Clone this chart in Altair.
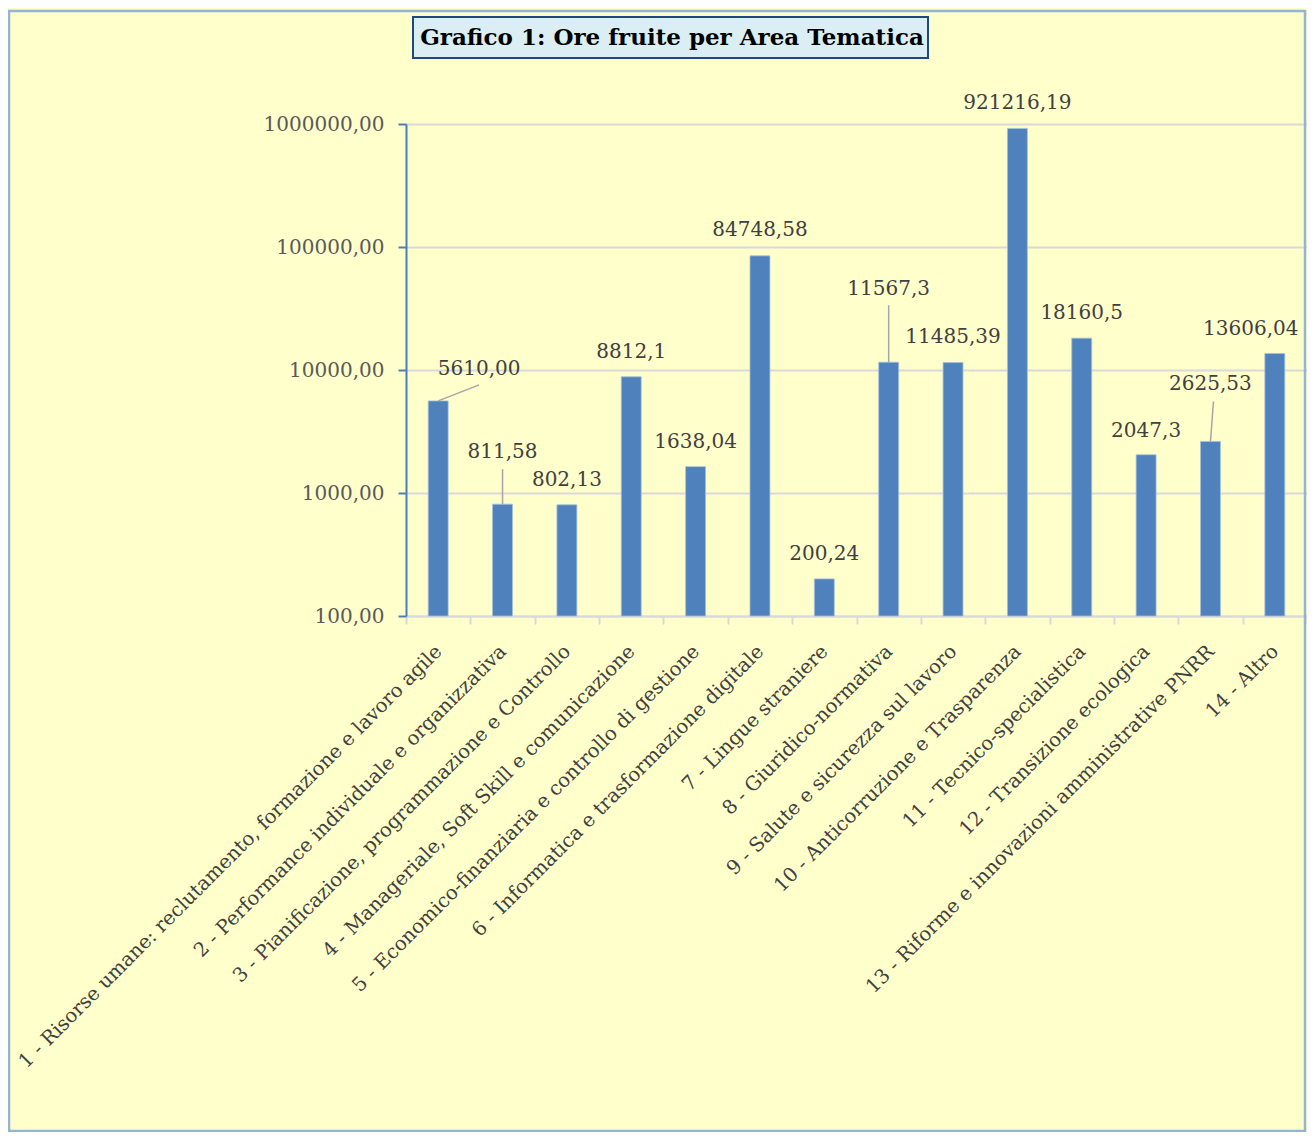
import altair as alt
import pandas as pd

categories = [
    "1 - Risorse umane: reclutamento, formazione e lavoro agile",
    "2 - Performance individuale e organizzativa",
    "3 - Pianificazione, programmazione e Controllo",
    "4 - Manageriale, Soft Skill e comunicazione",
    "5 - Economico-finanziaria e controllo di gestione",
    "6 - Informatica e trasformazione digitale",
    "7 - Lingue straniere",
    "8 - Giuridico-normativa",
    "9 - Salute e sicurezza sul lavoro",
    "10 - Anticorruzione e Trasparenza",
    "11 - Tecnico-specialistica",
    "12 - Transizione ecologica",
    "13 - Riforme e innovazioni amministrative PNRR",
    "14 - Altro",
]
values = [5610.00, 811.58, 802.13, 8812.1, 1638.04, 84748.58, 200.24,
          11567.3, 11485.39, 921216.19, 18160.5, 2047.3, 2625.53, 13606.04]
value_labels = ["5610,00", "811,58", "802,13", "8812,1", "1638,04", "84748,58", "200,24",
                "11567,3", "11485,39", "921216,19", "18160,5", "2047,3", "2625,53", "13606,04"]
y_ticks = [100, 1000, 10000, 100000, 1000000]
title_text = "Grafico 1: Ore fruite per Area Tematica"

# layout of the data labels (pixel offsets, as placed in the original)
label_dx = [41, 0, 0, 0, 0, 0, 0, 0, 0, 0, 0, 0, 0, -24]
label_dy = [-32, -52, -25, -25, -25, -26, -25, -73, -26, -25, -25, -24, -57, -25]
leader_idx = [0, 1, 7, 12]
leader_dx = [41, 0, 0, 3]
leader_len = [16, 35, 57, 40]

W, H = 901, 492
N = len(categories)
STEP = W / N
PX_PER_DECADE = H / 4.0
FONT = "DejaVu Serif"

df = pd.DataFrame({"cat": categories, "value": values, "label": value_labels,
                   "idx": list(range(N))})

pos_scale = alt.Scale(domain=[-0.5, N - 0.5], nice=False, zero=False)

xenc = alt.X("cat:N", sort=categories, title=None,
             scale=alt.Scale(paddingInner=0, paddingOuter=0),
             axis=alt.Axis(labelAngle=-45, labelAlign="right", labelBaseline="middle",
                           labelFont=FONT, labelFontSize=19.6, labelColor="#404040",
                           labelLimit=0, labelOverlap=False, labelPadding=24,
                           tickBand="extent", tickColor="#D9D9D9", tickSize=8, tickWidth=2,
                           domainColor="#D9D9D9", domainWidth=2, grid=False))
yenc = alt.Y("value:Q", title=None,
             scale=alt.Scale(type="log", domain=[100, 1000000], nice=False),
             axis=alt.Axis(values=y_ticks,
                           labelExpr="replace(format(datum.value, '.2f'), '.', ',')",
                           labelFont=FONT, labelFontSize=20, labelColor="#595959",
                           labelPadding=14, tickColor="#4A7EBB", tickSize=8, tickWidth=2,
                           domainColor="#4A7EBB", domainWidth=2,
                           grid=True, gridColor="#D9D9D9", gridWidth=2))

base = alt.Chart(df)

bars = base.mark_bar(color="#4F81BD", stroke="#A7C0DE", strokeWidth=0.8,
                     width=alt.RelativeBandSize(0.31)).encode(
    x=xenc, y=yenc, y2=alt.datum(100))

overlay_layers = []
for k, i in enumerate(leader_idx):
    end_val = values[i] * 10 ** (leader_len[k] / PX_PER_DECADE)
    ldf = pd.DataFrame({"pos": [i], "pos_end": [i + leader_dx[k] / STEP],
                        "value": [values[i]], "end": [end_val]})
    overlay_layers.append(
        alt.Chart(ldf).mark_rule(color="#A6A6A6", strokeWidth=1.5).encode(
            x=alt.X("pos:Q", scale=pos_scale, axis=None),
            x2=alt.X2("pos_end"),
            y=alt.Y("value:Q"),
            y2=alt.Y2("end"),
        )
    )

for i in range(N):
    overlay_layers.append(
        base.transform_filter(alt.datum.idx == i)
        .mark_text(font=FONT, fontSize=20, color="#404040", dx=label_dx[i], dy=label_dy[i],
                   baseline="middle", align="center")
        .encode(x=alt.X("idx:Q", scale=pos_scale, axis=None), y=alt.Y("value:Q"),
                text="label:N")
    )

one = pd.DataFrame({"t": [title_text]})
border = alt.Chart(one).mark_rect(fill=None, stroke="#95B3D7", strokeWidth=2.5).encode(
    x=alt.value(-397), x2=alt.value(899), y=alt.value(-113), y2=alt.value(1007))
title_box = alt.Chart(one).mark_rect(fill="#DBEEF4", stroke="#1F497D", strokeWidth=2).encode(
    x=alt.value(7), x2=alt.value(522), y=alt.value(-107), y2=alt.value(-66))
title = alt.Chart(one).mark_text(font=FONT, fontSize=23, fontWeight="bold", color="#000000",
                                 align="center", baseline="middle").encode(
    x=alt.value(266), y=alt.value(-86), text="t:N")

chart = alt.layer(border, title_box, title, bars, *overlay_layers).resolve_scale(
    x="independent"
).properties(
    width=W, height=H,
    autosize=alt.AutoSizeParams(type="none"),
    padding={"left": 398, "top": 116, "right": 0, "bottom": 516},
    background="#FFFFCC",
).configure_view(stroke=None)

chart.save("out.html", embed_options={"renderer": "svg", "actions": False})
